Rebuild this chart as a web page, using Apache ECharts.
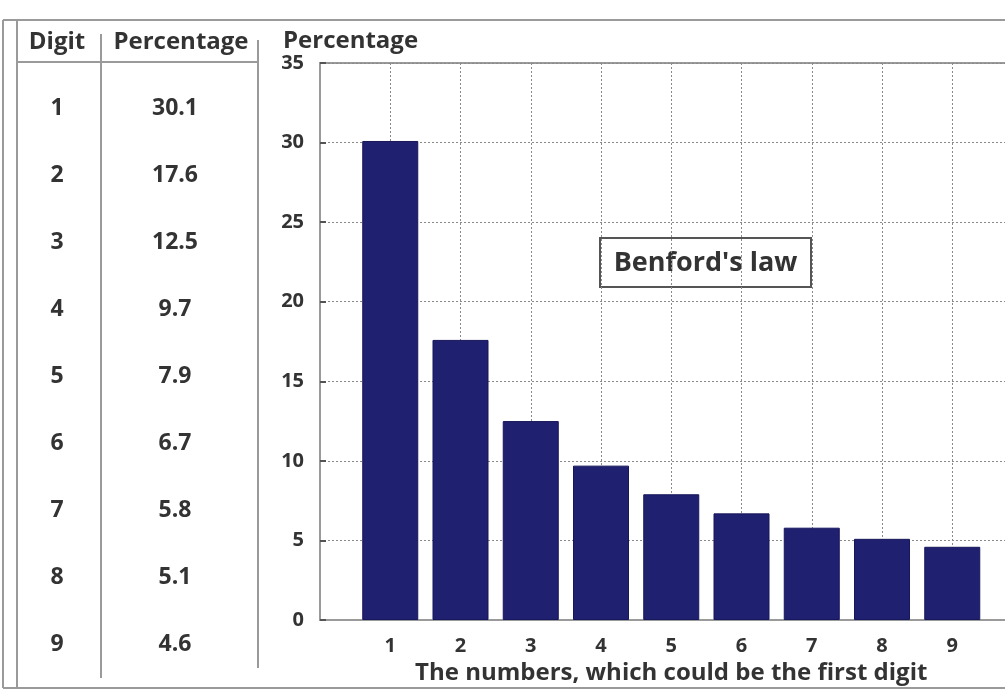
<!DOCTYPE html>
<html>
<head>
<meta charset="utf-8">
<script src="https://cdn.jsdelivr.net/npm/echarts@6/dist/echarts.min.js"></script>
<style>
  html, body { margin: 0; padding: 0; background: #ffffff; }
  #chart { width: 1005px; height: 693px; }
</style>
</head>
<body>
<div id="chart"></div>
<script>
// First-digit distribution (Benford's law)
const digits = [1, 2, 3, 4, 5, 6, 7, 8, 9];
const percentages = [30.1, 17.6, 12.5, 9.7, 7.9, 6.7, 5.8, 5.1, 4.6];
const percentageLabels = ['30.1', '17.6', '12.5', '9.7', '7.9', '6.7', '5.8', '5.1', '4.6'];
const tableHeaders = ['Digit', 'Percentage'];
const yTicks = [0, 5, 10, 15, 20, 25, 30, 35];

const FONT = '"Open Sans"';
const TEXT = '#333333';
const FRAME = '#9a9a9a';

const chart = echarts.init(document.getElementById('chart'), null, { renderer: 'canvas' });

const cellText = (x, y, text, size) => ({
  type: 'text', x: x, y: y, silent: true,
  style: { text: text, font: 'bold ' + size + 'px ' + FONT, fill: TEXT,
    textAlign: 'center', textVerticalAlign: 'middle' }
});

// Side table: header row and one row per digit
const tableGraphics = [
  cellText(57, 42, tableHeaders[0], 24),
  cellText(181, 42, tableHeaders[1], 24)
];
const rowTop = 108, rowStep = 67.1;
digits.forEach((d, i) => {
  const y = rowTop + i * rowStep;
  tableGraphics.push(cellText(57, y, String(d), 23));
  tableGraphics.push(cellText(175, y, percentageLabels[i], 23));
});

const line = (x1, y1, x2, y2, w) => ({
  type: 'line', silent: true,
  shape: { x1, y1, x2, y2 },
  style: { stroke: FRAME, lineWidth: w || 2 }
});

// Page frame and table rules
const frameGraphics = [
  line(3, 20, 1005, 20),
  line(3, 20, 3, 688),
  line(17, 20, 17, 688),
  line(3, 688, 1005, 688),
  line(17, 62, 258, 62),
  line(101, 34, 101, 678),
  line(258, 40, 258, 668)
];

const option = {
  backgroundColor: '#ffffff',
  animation: false,
  textStyle: { fontFamily: FONT },
  grid: {
    left: 320, top: 63, width: 702.5, height: 557,
    outerBoundsMode: 'none', containLabel: false,
    show: true, borderColor: FRAME, borderWidth: 2, backgroundColor: 'transparent'
  },
  xAxis: {
    type: 'value', min: 0, max: 10, interval: 1,
    name: 'The numbers, which could be the first digit',
    nameLocation: 'middle', nameGap: 32,
    nameTextStyle: { fontFamily: FONT, fontWeight: 'bold', fontSize: 24, color: TEXT,
      padding: [0, 0, 0, 0] },
    axisLine: { show: true, lineStyle: { color: FRAME, width: 2 } },
    axisTick: { show: false },
    axisLabel: {
      margin: 16, fontFamily: FONT, fontWeight: 'bold', fontSize: 20, color: TEXT,
      formatter: v => (digits.indexOf(v) >= 0 ? String(v) : '')
    },
    splitLine: { show: true, lineStyle: { color: '#8a8a8a', type: [2, 2], width: 1 } }
  },
  yAxis: {
    type: 'value', min: yTicks[0], max: yTicks[yTicks.length - 1], interval: 5,
    name: 'Percentage',
    nameLocation: 'end', nameGap: 8,
    nameTextStyle: { fontFamily: FONT, fontWeight: 'bold', fontSize: 24, color: TEXT,
      align: 'left', padding: [0, 0, 0, -37] },
    axisLine: { show: true, lineStyle: { color: FRAME, width: 2 } },
    axisTick: { show: true, inside: true, length: 6, lineStyle: { color: '#555', width: 2 } },
    axisLabel: { margin: 16, fontFamily: FONT, fontWeight: 'bold', fontSize: 20, color: TEXT },
    splitLine: { show: true, lineStyle: { color: '#8a8a8a', type: [2, 2], width: 1 } }
  },
  series: [{
    type: 'bar',
    data: digits.map((d, i) => [d, percentages[i]]),
    barWidth: 56,
    itemStyle: { color: '#202070', borderColor: '#16165a', borderWidth: 1 }
  }],
  graphic: [
    ...frameGraphics,
    ...tableGraphics,
    {
      type: 'group', x: 600, y: 238,
      children: [
        { type: 'rect', shape: { x: 0, y: 0, width: 211, height: 49 },
          style: { fill: '#ffffff', stroke: '#555555', lineWidth: 2 } },
        { type: 'text', x: 105.5, y: 25,
          style: { text: "Benford's law", font: 'bold 27px ' + FONT, fill: TEXT,
            textAlign: 'center', textVerticalAlign: 'middle' } }
      ]
    }
  ]
};

chart.setOption(option);
</script>
</body>
</html>
